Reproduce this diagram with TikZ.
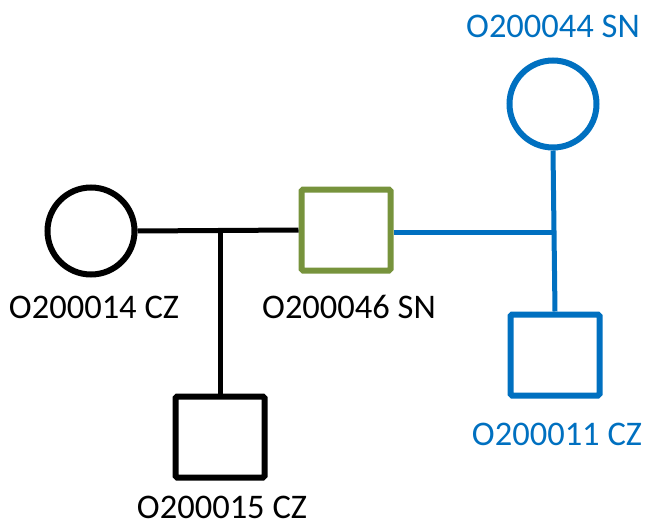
\documentclass[tikz,border=0pt]{standalone}
\usepackage{fontspec}
\setmainfont{Carlito}
\definecolor{pblue}{HTML}{0070C0}
\definecolor{pgreen}{HTML}{77933C}
\begin{document}
\begin{tikzpicture}[x=1pt,y=-1pt,
  female/.style={circle,draw,line width=6pt,minimum size=87pt,inner sep=0pt},
  male/.style={rectangle,draw,line width=6pt,minimum width=89pt,minimum height=81pt,inner sep=0pt,rounded corners=1.5pt},
  lbl/.style={anchor=base,inner sep=0pt,font=\fontsize{34.5}{40}\selectfont},
  link/.style={line width=5pt}]
\useasboundingbox (0,0) rectangle (646,527);
\node[female] (f14) at (91,231) {};
\node[male,draw=pgreen] (m46) at (346,230) {};
\node[female,draw=pblue] (f44) at (553,104) {};
\node[male,draw=pblue] (m11) at (555,355) {};
\node[male] (m15) at (220,437) {};
\coordinate (j1) at (220,230);
\coordinate (j2) at (555,232);
\draw[link] (f14.east) -- (m46.west);
\draw[link] (j1) -- (m15.north);
\draw[link,pblue] (m46.east |- j2) -- (j2);
\draw[link,pblue] (f44.south) -- (m11.north);
\node[lbl] (t14) at (94,318) {O200014 CZ};
\node[lbl] (t46) at (349,318) {O200046 SN};
\node[lbl,text=pblue] (t44) at (553,38) {O200044 SN};
\node[lbl,text=pblue] (t11) at (557,445) {O200011 CZ};
\node[lbl] (t15) at (222,518) {O200015 CZ};
\end{tikzpicture}
\end{document}
